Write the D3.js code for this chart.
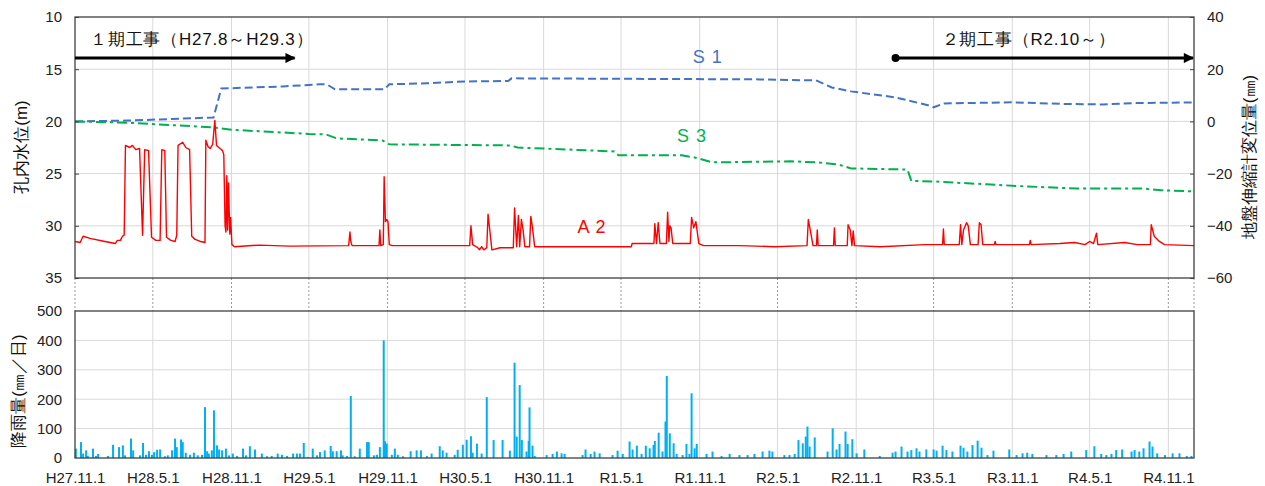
<!DOCTYPE html>
<html>
<head>
<meta charset="utf-8">
<script src="https://cdn.jsdelivr.net/npm/d3@7"></script>
<style>
  body { margin: 0; background: #fff; }
  svg { display: block; }
  text { font-family: "Liberation Sans", Arial, sans-serif; }
</style>
</head>
<body>
<svg width="1265" height="486"></svg>
<script>
const parse = d3.timeParse('%Y-%m-%d');

// x axis
const startDate = '2015-11-01';
const endDate = '2022-12-31';
const tickDates = ['2015-11-01', '2016-05-01', '2016-11-01', '2017-05-01', '2017-11-01', '2018-05-01', '2018-11-01',
  '2019-05-01', '2019-11-01', '2020-05-01', '2020-11-01', '2021-05-01', '2021-11-01', '2022-05-01', '2022-11-01'];
const tickLabels = ['H27.11.1', 'H28.5.1', 'H28.11.1', 'H29.5.1', 'H29.11.1', 'H30.5.1', 'H30.11.1',
  'R1.5.1', 'R1.11.1', 'R2.5.1', 'R2.11.1', 'R3.5.1', 'R3.11.1', 'R4.5.1', 'R4.11.1'];

// y axes
const levelTicks = [10, 15, 20, 25, 30, 35];
const dispTicks = [40, 20, 0, -20, -40, -60];
const rainTicks = [0, 100, 200, 300, 400, 500];

// A2 borehole water level (m)
const a2Series = [
  ['2015-11-01', 31.5], ['2015-11-13', 31.6], ['2015-11-20', 31.0], ['2015-12-06', 31.2], ['2016-01-10', 31.5],
  ['2016-02-03', 31.7], ['2016-02-08', 31.4], ['2016-02-15', 31.4], ['2016-02-20', 31.0], ['2016-02-24', 30.9],
  ['2016-02-27', 22.3], ['2016-03-08', 22.5], ['2016-03-14', 22.3], ['2016-03-22', 22.7], ['2016-03-31', 22.6],
  ['2016-04-07', 30.9], ['2016-04-12', 22.7], ['2016-04-21', 22.8], ['2016-04-28', 31.1], ['2016-05-08', 31.4],
  ['2016-05-18', 31.4], ['2016-05-22', 22.7], ['2016-05-29', 22.8], ['2016-06-02', 31.1], ['2016-06-12', 31.4],
  ['2016-06-22', 31.5], ['2016-06-26', 30.9], ['2016-06-29', 22.3], ['2016-07-10', 22.0], ['2016-07-17', 22.5],
  ['2016-07-26', 22.7], ['2016-07-31', 31.0], ['2016-08-08', 31.3], ['2016-08-20', 31.5], ['2016-08-31', 31.6],
  ['2016-09-02', 21.8], ['2016-09-07', 22.4], ['2016-09-12', 22.6], ['2016-09-18', 22.2], ['2016-09-23', 19.9],
  ['2016-09-27', 22.3], ['2016-10-05', 22.6], ['2016-10-11', 22.8], ['2016-10-14', 23.2], ['2016-10-17', 30.0],
  ['2016-10-19', 30.6], ['2016-10-21', 25.2], ['2016-10-23', 30.4], ['2016-10-25', 25.9], ['2016-10-28', 30.8],
  ['2016-10-30', 29.2], ['2016-11-02', 31.8], ['2016-11-08', 32.0], ['2017-01-05', 31.85], ['2017-03-17', 31.95],
  ['2017-08-02', 31.9], ['2017-08-05', 30.6], ['2017-08-07', 31.5], ['2017-08-10', 31.9], ['2017-10-12', 31.9],
  ['2017-10-14', 30.4], ['2017-10-16', 31.9], ['2017-10-22', 31.8], ['2017-10-24', 25.3], ['2017-10-27', 29.6],
  ['2017-10-30', 29.4], ['2017-11-02', 29.6], ['2017-11-05', 31.8], ['2017-11-12', 31.9], ['2018-01-17', 31.9],
  ['2018-05-12', 31.9], ['2018-05-15', 30.0], ['2018-05-19', 31.8], ['2018-05-31', 32.1], ['2018-06-04', 32.3],
  ['2018-06-09', 32.0], ['2018-06-14', 32.3], ['2018-06-21', 32.1], ['2018-06-24', 28.9], ['2018-06-28', 30.4],
  ['2018-07-03', 32.3], ['2018-07-22', 32.1], ['2018-08-22', 32.1], ['2018-08-25', 28.3], ['2018-08-30', 32.0],
  ['2018-09-03', 29.0], ['2018-09-06', 32.0], ['2018-09-10', 29.4], ['2018-09-14', 30.4], ['2018-09-18', 32.0],
  ['2018-09-29', 32.0], ['2018-10-02', 29.1], ['2018-10-06', 30.2], ['2018-10-11', 32.0], ['2019-03-11', 32.0],
  ['2019-05-25', 32.0], ['2019-05-27', 31.7], ['2019-07-17', 31.7], ['2019-07-19', 29.8], ['2019-07-23', 31.7],
  ['2019-07-27', 29.7], ['2019-07-31', 31.7], ['2019-08-15', 31.7], ['2019-08-18', 28.7], ['2019-08-21', 31.5],
  ['2019-08-23', 30.0], ['2019-08-26', 30.2], ['2019-08-30', 31.7], ['2019-10-10', 31.7], ['2019-10-13', 29.2],
  ['2019-10-18', 30.2], ['2019-10-23', 29.6], ['2019-10-30', 31.7], ['2019-11-10', 31.9], ['2020-02-02', 31.9],
  ['2020-04-24', 32.0], ['2020-07-09', 31.9], ['2020-07-12', 29.4], ['2020-07-17', 30.5], ['2020-07-23', 31.9],
  ['2020-07-31', 31.9], ['2020-08-02', 30.4], ['2020-08-04', 31.9], ['2020-09-09', 31.9], ['2020-09-11', 30.2],
  ['2020-09-13', 31.9], ['2020-10-11', 31.9], ['2020-10-13', 29.9], ['2020-10-18', 30.4], ['2020-10-22', 31.9],
  ['2020-10-25', 30.5], ['2020-10-28', 31.9], ['2020-12-27', 32.0], ['2021-04-10', 31.8], ['2021-05-22', 31.8],
  ['2021-05-24', 30.3], ['2021-05-26', 31.8], ['2021-06-30', 31.8], ['2021-07-03', 29.9], ['2021-07-06', 31.8],
  ['2021-07-10', 30.4], ['2021-07-17', 29.7], ['2021-07-21', 30.0], ['2021-07-26', 31.8], ['2021-08-13', 31.8],
  ['2021-08-16', 29.7], ['2021-08-20', 29.9], ['2021-08-24', 31.8], ['2021-09-20', 31.8], ['2021-09-22', 31.5],
  ['2021-09-24', 31.8], ['2021-12-11', 31.8], ['2021-12-13', 31.4], ['2021-12-15', 31.8], ['2022-02-20', 31.7],
  ['2022-03-27', 31.6], ['2022-04-20', 31.8], ['2022-05-01', 31.5], ['2022-05-10', 31.7], ['2022-05-17', 30.7],
  ['2022-05-20', 31.8], ['2022-07-22', 31.6], ['2022-08-20', 31.8], ['2022-09-20', 31.8], ['2022-09-22', 29.9],
  ['2022-09-29', 31.0], ['2022-10-11', 31.5], ['2022-10-23', 31.8], ['2022-12-31', 31.9]
];

// S1 extensometer displacement (mm)
const s1Series = [
  ['2015-11-01', 0], ['2016-03-01', 0.3], ['2016-09-20', 1.5], ['2016-10-08', 12.6], ['2017-03-01', 13.4],
  ['2017-05-25', 14.2], ['2017-06-12', 14.2], ['2017-07-01', 12.3], ['2017-10-25', 12.3], ['2017-11-05', 14.2],
  ['2018-02-01', 14.6], ['2018-05-01', 15.3], ['2018-08-10', 15.5], ['2018-08-18', 16.5], ['2020-03-20', 16.1],
  ['2020-07-30', 15.7], ['2020-09-05', 13.0], ['2020-10-20', 11.5], ['2021-02-01', 9.2], ['2021-04-20', 6.1],
  ['2021-05-01', 5.4], ['2021-05-25', 6.9], ['2021-11-01', 7.3], ['2022-03-01', 6.7], ['2022-06-01', 6.5],
  ['2022-08-15', 7.0], ['2022-12-31', 7.3]
];

// S3 extensometer displacement (mm)
const s3Series = [
  ['2015-11-01', 0], ['2016-03-01', -0.5], ['2016-09-20', -2.3], ['2016-11-01', -3.2], ['2017-05-01', -4.8],
  ['2017-06-10', -5.0], ['2017-07-05', -6.5], ['2017-10-20', -7.3], ['2017-11-05', -8.8], ['2018-08-15', -9.2],
  ['2018-09-01', -10.0], ['2019-04-15', -11.5], ['2019-04-25', -13.0], ['2019-09-20', -13.0], ['2019-10-20', -13.8],
  ['2019-12-01', -15.7], ['2020-06-01', -15.3], ['2020-08-01', -15.7], ['2020-09-20', -16.5], ['2020-10-20', -18.0],
  ['2021-02-15', -18.4], ['2021-03-01', -18.5], ['2021-03-10', -22.8], ['2021-05-01', -23.0], ['2021-09-01', -24.1],
  ['2021-12-01', -24.9], ['2022-04-01', -25.7], ['2022-09-01', -25.7], ['2022-10-15', -26.4], ['2022-12-31', -26.8]
];

// daily rainfall: [days since 2015-11-01, mm]
const rainSeries = [
  [2, 32], [14, 54], [19, 15], [26, 26], [30, 7], [42, 32], [49, 7], [54, 14], [77, 7], [89, 45],
  [103, 37], [112, 43], [117, 9], [131, 66], [136, 26], [152, 9], [159, 51], [166, 11], [173, 23], [180, 11],
  [185, 20], [192, 28], [199, 29], [210, 6], [217, 9], [227, 26], [234, 66], [238, 37], [248, 63], [252, 54],
  [259, 18], [269, 11], [278, 18], [287, 9], [297, 11], [304, 173], [309, 23], [313, 15], [320, 26], [325, 162],
  [332, 43], [337, 29], [344, 26], [353, 32], [360, 9], [369, 15], [379, 7], [393, 32], [400, 9], [409, 40],
  [421, 29], [437, 15], [449, 6], [460, 7], [474, 15], [484, 11], [496, 7], [510, 15], [519, 15], [526, 15],
  [535, 51], [545, 3], [556, 32], [566, 9], [573, 20], [584, 26], [598, 41], [603, 23], [612, 23], [622, 26],
  [626, 9], [636, 7], [645, 211], [654, 6], [666, 32], [683, 54], [687, 54], [699, 9], [706, 11], [713, 37],
  [722, 400], [725, 57], [729, 49], [741, 11], [748, 32], [755, 11], [767, 6], [785, 23], [799, 26], [809, 26],
  [823, 7], [834, 15], [853, 40], [860, 26], [869, 18], [888, 11], [895, 28], [907, 45], [916, 62], [926, 74],
  [930, 18], [940, 49], [951, 15], [963, 207], [979, 61], [1000, 61], [1017, 25], [1028, 324],
  [1033, 73], [1040, 248], [1045, 61], [1056, 22], [1061, 58], [1063, 172], [1070, 42], [1075, 7], [1103, 10], [1117, 14],
  [1127, 22], [1138, 16], [1145, 14], [1187, 10], [1194, 29], [1206, 14], [1215, 22], [1227, 16], [1257, 10], [1269, 25],
  [1281, 14], [1297, 56], [1304, 29], [1314, 42], [1325, 14], [1335, 42], [1344, 33], [1353, 44], [1356, 58], [1365, 86],
  [1374, 22], [1381, 124], [1384, 279], [1391, 84], [1400, 50], [1407, 14], [1421, 10], [1430, 48], [1437, 14], [1442, 220],
  [1449, 33], [1454, 48], [1477, 14], [1491, 22], [1512, 7], [1531, 14], [1554, 10], [1573, 10], [1589, 14], [1608, 22],
  [1624, 25], [1631, 22], [1659, 10], [1671, 10], [1683, 14], [1692, 61], [1702, 50], [1709, 73], [1713, 107], [1718, 39],
  [1730, 70], [1760, 22], [1772, 101], [1781, 29], [1788, 48], [1802, 90], [1807, 48], [1818, 64], [1828, 16], [1846, 29],
  [1882, 7], [1912, 18], [1919, 22], [1933, 39], [1947, 22], [1956, 27], [1968, 33], [1975, 22], [1991, 29], [2008, 29],
  [2015, 25], [2029, 42], [2038, 27], [2052, 22], [2071, 42], [2078, 35], [2087, 22], [2099, 44], [2111, 59], [2120, 35],
  [2134, 10], [2148, 25], [2185, 29], [2202, 10], [2216, 16], [2227, 18], [2239, 14], [2272, 10], [2295, 10], [2312, 14],
  [2330, 22], [2365, 27], [2384, 40], [2400, 14], [2412, 10], [2424, 14], [2435, 27], [2449, 29], [2471, 22], [2478, 27],
  [2489, 22], [2499, 33], [2513, 56], [2520, 39], [2531, 16], [2549, 10], [2567, 16], [2583, 16], [2600, 7], [2611, 7]
];

// construction periods
const phaseLabels = ['１期工事（H27.8～H29.3）', '２期工事（R2.10～）'];
const phaseStart = ['2015-08-01', '2021-02-01'];
const phaseEnd = ['2017-03-31', '2022-12-31'];

// series labels: [text, date, value, colour, axis]
const seriesLabels = [
  ['S 1', '2019-11-20', 22.2, '#4472C4', 'disp'],
  ['S 3', '2019-10-14', -8.0, '#00B050', 'disp'],
  ['A 2', '2019-02-22', 30.7, '#FF0000', 'level']
];

const svg = d3.select('svg');
const left = 75, right = 1194;
const upTop = 17, upBottom = 278;
const lowTop = 311, lowBottom = 458;
const gridColor = '#d9d9d9';
const frameColor = '#404040';

const x = d3.scaleTime().domain([parse(startDate), parse(endDate)]).range([left, right]);
const yLevel = d3.scaleLinear().domain([10, 35]).range([upTop, upBottom]);
const yDisp = d3.scaleLinear().domain([40, -60]).range([upTop, upBottom]);
const yRain = d3.scaleLinear().domain([0, 500]).range([lowBottom, lowTop]);

const ticks = tickDates.map(parse);

svg.append('defs').append('clipPath').attr('id', 'upclip')
  .append('rect').attr('x', left).attr('y', upTop).attr('width', right - left).attr('height', upBottom - upTop);
svg.select('defs').append('marker')
  .attr('id', 'arrow').attr('viewBox', '0 0 10 10').attr('refX', 9).attr('refY', 5)
  .attr('markerWidth', 4).attr('markerHeight', 3.4).attr('orient', 'auto').attr('markerUnits', 'strokeWidth')
  .append('path').attr('d', 'M0,0L10,5L0,10Z').attr('fill', '#000');

// grids
const grid = svg.append('g');
grid.selectAll('.vg-up').data(ticks.slice(1)).enter().append('line')
  .attr('x1', d => x(d)).attr('x2', d => x(d)).attr('y1', upTop).attr('y2', upBottom)
  .attr('stroke', gridColor);
grid.selectAll('.vg-low').data(ticks.slice(1)).enter().append('line')
  .attr('x1', d => x(d)).attr('x2', d => x(d)).attr('y1', lowTop).attr('y2', lowBottom)
  .attr('stroke', gridColor);
grid.selectAll('.vg-mid').data(ticks.concat([parse(endDate)])).enter().append('line')
  .attr('x1', d => x(d)).attr('x2', d => x(d)).attr('y1', upBottom).attr('y2', lowTop)
  .attr('stroke', '#999').attr('stroke-dasharray', '2,2');
grid.selectAll('.hg-up').data(levelTicks.slice(1, -1)).enter().append('line')
  .attr('x1', left).attr('x2', right).attr('y1', d => yLevel(d)).attr('y2', d => yLevel(d))
  .attr('stroke', gridColor);
grid.selectAll('.hg-low').data(rainTicks.slice(1, -1)).enter().append('line')
  .attr('x1', left).attr('x2', right).attr('y1', d => yRain(d)).attr('y2', d => yRain(d))
  .attr('stroke', gridColor);

// rainfall bars
const start = parse(startDate);
svg.append('g').selectAll('rect').data(rainSeries).enter().append('rect')
  .attr('x', d => x(d3.timeDay.offset(start, d[0])) - 1)
  .attr('y', d => yRain(d[1]))
  .attr('width', 2)
  .attr('height', d => yRain(0) - yRain(d[1]))
  .attr('fill', '#00B0F0');

// lines
const lines = svg.append('g').attr('clip-path', 'url(#upclip)');
const levelLine = d3.line().x(d => x(parse(d[0]))).y(d => yLevel(d[1]));
const dispLine = d3.line().x(d => x(parse(d[0]))).y(d => yDisp(d[1]));
lines.append('path').datum(s1Series).attr('d', dispLine)
  .attr('fill', 'none').attr('stroke', '#4472C4').attr('stroke-width', 2).attr('stroke-dasharray', '8,4');
lines.append('path').datum(s3Series).attr('d', dispLine)
  .attr('fill', 'none').attr('stroke', '#00B050').attr('stroke-width', 2).attr('stroke-dasharray', '10,4,3,4');
lines.append('path').datum(a2Series).attr('d', levelLine)
  .attr('fill', 'none').attr('stroke', '#FF0000').attr('stroke-width', 1.4).attr('stroke-linejoin', 'round');

// frames
svg.append('rect').attr('x', left).attr('y', upTop).attr('width', right - left).attr('height', upBottom - upTop)
  .attr('fill', 'none').attr('stroke', frameColor).attr('stroke-width', 1.3);
svg.append('rect').attr('x', left).attr('y', lowTop).attr('width', right - left).attr('height', lowBottom - lowTop)
  .attr('fill', 'none').attr('stroke', frameColor).attr('stroke-width', 1.3);

// axes
function styleAxis(g) {
  g.select('.domain').remove();
  g.selectAll('.tick line').attr('stroke', frameColor);
  g.selectAll('text').attr('font-size', 15).attr('fill', '#222')
    .attr('font-family', '"Liberation Sans", Arial, sans-serif');
}
svg.append('g').attr('transform', `translate(${left},0)`)
  .call(d3.axisLeft(yLevel).tickValues(levelTicks).tickSizeInner(-4).tickSizeOuter(0).tickPadding(13))
  .call(styleAxis);
svg.append('g').attr('transform', `translate(${right},0)`)
  .call(d3.axisRight(yDisp).tickValues(dispTicks).tickSizeInner(-4).tickSizeOuter(0).tickPadding(13))
  .call(styleAxis);
svg.append('g').attr('transform', `translate(${left},0)`)
  .call(d3.axisLeft(yRain).tickValues(rainTicks).tickSizeInner(0).tickSizeOuter(0).tickPadding(13))
  .call(styleAxis);
svg.append('g').attr('transform', `translate(0,${lowBottom})`)
  .call(d3.axisBottom(x).tickValues(ticks).tickFormat((d, i) => tickLabels[i]).tickSize(0).tickPadding(14))
  .call(styleAxis);

// axis titles
const jp = '"Noto Sans CJK JP", sans-serif';
const titles = [
  ['孔内水位(m)', 21, 147],
  ['地盤伸縮計変位量(㎜)', 1249, 157],
  ['降雨量(㎜／日)', 18, 391]
];
svg.append('g').selectAll('text').data(titles).enter().append('text')
  .attr('transform', d => `translate(${d[1]},${d[2]}) rotate(-90)`)
  .attr('text-anchor', 'middle').attr('dominant-baseline', 'central')
  .attr('font-family', jp).attr('font-size', 17).attr('fill', '#111')
  .text(d => d[0]);

// construction arrows
const phases = phaseLabels.map((t, i) => ({
  label: t,
  start: d3.max([parse(phaseStart[i]), parse(startDate)]),
  clipped: parse(phaseStart[i]) < parse(startDate),
  end: parse(phaseEnd[i])
}));
const arrowY = 58;
const pg = svg.append('g');
pg.selectAll('line').data(phases).enter().append('line')
  .attr('x1', d => x(d.start)).attr('x2', d => x(d.end) - 1)
  .attr('y1', arrowY).attr('y2', arrowY)
  .attr('stroke', '#000').attr('stroke-width', 3).attr('marker-end', 'url(#arrow)');
pg.selectAll('circle').data(phases.filter(d => !d.clipped)).enter().append('circle')
  .attr('cx', d => x(d.start)).attr('cy', arrowY).attr('r', 4).attr('fill', '#000');
pg.selectAll('text').data(phases).enter().append('text')
  .attr('x', d => d.clipped ? x(d.start) + 15 : x(d.start) + 46)
  .attr('y', 45)
  .attr('font-family', jp).attr('font-size', 17).attr('letter-spacing', 0.8).attr('fill', '#111')
  .text(d => d.label);

// series labels
svg.append('g').selectAll('text').data(seriesLabels).enter().append('text')
  .attr('x', d => x(parse(d[1])))
  .attr('y', d => d[4] === 'level' ? yLevel(d[2]) : yDisp(d[2]))
  .attr('text-anchor', 'middle')
  .attr('font-size', 18).attr('fill', d => d[3])
  .attr('letter-spacing', 1)
  .text(d => d[0]);
</script>
</body>
</html>
